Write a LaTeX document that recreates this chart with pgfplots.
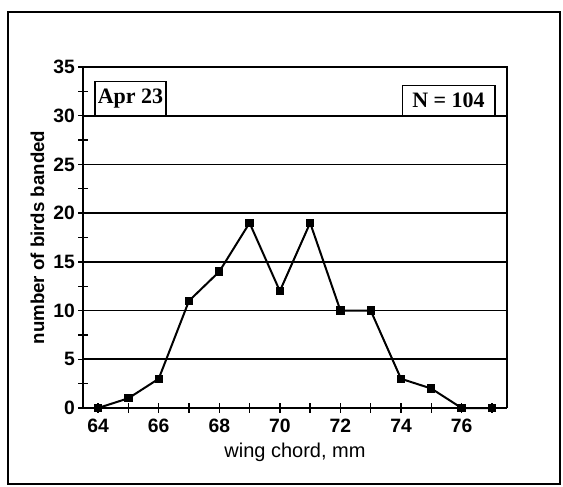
\documentclass[border=0pt]{standalone}
\usepackage{pgfplots}
\pgfplotsset{compat=1.18}
\usepackage{fontspec}
\setmainfont{Liberation Sans}
\newfontfamily\timesf{Liberation Serif}
\begin{document}
\begin{tikzpicture}[x=1pt,y=1pt]
\useasboundingbox (-62.25,-58.5) rectangle (360,306);
\draw[line width=1.4pt] (-56.25,-57) rectangle (357.75,297);
\draw[line width=2.2pt] (-56.25,297) -- (357.75,297);
\begin{axis}[
  at={(0,0)}, anchor=origin,
  scale only axis, width=318pt, height=255.75pt,
  xmin=63.5, xmax=77.5, ymin=0, ymax=35,
  xtick={64,66,...,76}, minor xtick={65,67,...,77},
  ytick={0,5,...,35}, minor ytick={2.5,7.5,...,32.5},
  ymajorgrids,
  major grid style={black, line width=1.3pt},
  tick style={black, line width=1pt},
  major tick length=7pt, minor tick length=7pt,
  xtick align=center, ytick align=center,
  axis x line*=bottom, axis y line*=left,
  separate axis lines,
  every outer x axis line/.append style={line width=1.6pt},
  every outer y axis line/.append style={line width=1.6pt},
  /pgf/number format/assume math mode=true,
  tick label style={font=\fontsize{14.5}{16}\selectfont\bfseries},
  xticklabel style={yshift=-1pt},
  yticklabel style={xshift=1pt},
  xlabel={wing chord, mm},
  ylabel={number of birds banded},
  xlabel style={font=\fontsize{15}{17}\selectfont, yshift=-1pt},
  ylabel style={font=\fontsize{14}{16}\selectfont\bfseries, yshift=0pt},
  clip=false,
]
\draw[line width=1.6pt] (rel axis cs:0,1) -- (rel axis cs:1,1) -- (rel axis cs:1,0);
\addplot[black, line width=1.5pt, mark=square*, mark size=2.4pt, mark options={solid}] coordinates {
(64,0) (65,1) (66,3) (67,11) (68,14) (69,19) (70,12) (71,19) (72,10) (73,10) (74,3) (75,2) (76,0) (77,0)
};
\draw[line width=1.2pt, fill=white] (axis cs:63.9,30) rectangle (axis cs:66.25,33.5);
\node[font=\timesf\bfseries\fontsize{16.5}{18}\selectfont] at (axis cs:65.07,31.75) {Apr 23};
\draw[line width=1.2pt, fill=white] (axis cs:74.05,30) rectangle (axis cs:77.1,33.1);
\node[font=\timesf\bfseries\fontsize{16.5}{18}\selectfont] at (axis cs:75.57,31.55) {N = 104};
\end{axis}
\end{tikzpicture}
\end{document}
